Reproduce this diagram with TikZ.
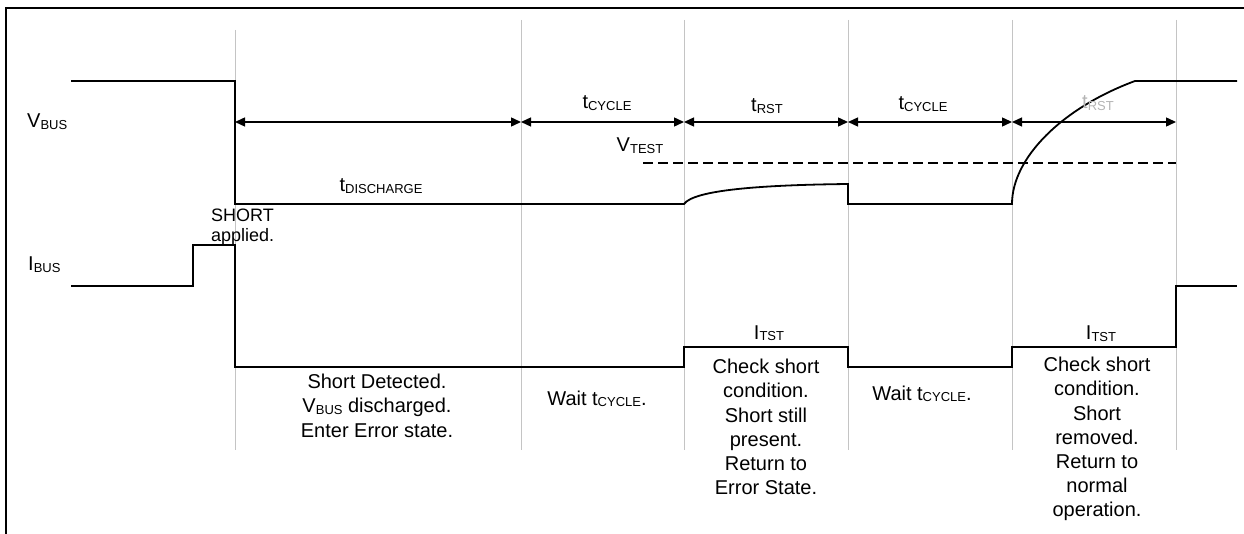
\documentclass[tikz,border=0pt]{standalone}
\usepackage{fontspec}
\setmainfont{Liberation Sans}
\usetikzlibrary{arrows.meta}
\newcommand{\sbs}[1]{\raisebox{-1.5pt}{\fontsize{13}{13}\selectfont #1}}
\definecolor{gridgray}{HTML}{C4C4C4}
\definecolor{lbgray}{HTML}{B4B4B4}
\tikzset{
  frame/.style={line width=2.6pt, black},
  gridline/.style={line width=1pt, gridgray},
  signal/.style={line width=1.8pt, black, line join=miter},
  span/.style={line width=1.4pt, black, {Triangle[length=10pt,width=9pt]}-{Triangle[length=10pt,width=9pt]}},
  vtest/.style={line width=1.4pt, black, dash pattern=on 10pt off 5pt},
  lbl/.style={inner sep=0pt, font=\fontsize{20}{24}\selectfont, anchor=base},
  small/.style={inner sep=0pt, font=\fontsize{18}{20}\selectfont, align=left, anchor=north west},
  desc/.style={inner sep=0pt, font=\fontsize{20}{24.2}\selectfont, align=center, anchor=north}
}
\begin{document}
\begin{tikzpicture}[x=1pt,y=-1pt]
\useasboundingbox (0,0) rectangle (1244,534);
% time marks
\coordinate (t0) at (235,122);
\coordinate (t1) at (521,122);
\coordinate (t2) at (684,122);
\coordinate (t3) at (848,122);
\coordinate (t4) at (1012,122);
\coordinate (t5) at (1176,122);
% frame
\draw[frame] (6,534) -- (6,8) -- (1244,8);
% grid lines
\draw[gridline] (235,30) -- (235,450);
\foreach \x in {521,684,848,1012,1176} \draw[gridline] (\x,20) -- (\x,450);
% labels
\node[lbl, anchor=base west] (vbusl) at (27,128) {V\sbs{BUS}};
\node[lbl, anchor=base west] (ibusl) at (28,271) {I\sbs{BUS}};
% VBUS signal
\draw[signal] (71,81) -- (235,81) -- (235,204) -- (684,204)
  .. controls (694,190) and (760,185) .. (848,184) -- (848,204) -- (1012,204)
  .. controls (1012,158) and (1062,108) .. (1135,81) -- (1237,81);
% IBUS signal
\draw[signal] (71,286) -- (193,286) -- (193,245) -- (235,245) -- (235,367)
  -- (684,367) -- (684,347) -- (848,347) -- (848,367) -- (1012,367)
  -- (1012,347) -- (1176,347) -- (1176,286) -- (1237,286);
% VTEST dashed
\coordinate (vt0) at (643,163);
\coordinate (vt1) at (1176,163);
\draw[vtest] (vt0) -- (vt1);
% spans
\draw[span] (t0) -- (t1);
\draw[span] (t1) -- (t2);
\draw[span] (t2) -- (t3);
\draw[span] (t3) -- (t4);
\draw[span] (t4) -- (t5);
% span labels
\node[lbl] (cyc1) at (607,109) {t\sbs{CYCLE}};
\node[lbl] (rst1) at (767,112) {t\sbs{RST}};
\node[lbl] (cyc2) at (923,110) {t\sbs{CYCLE}};
\node[lbl, text=lbgray] (rst2) at (1098,109) {t\sbs{RST}};
\node[lbl] (vtestl) at (640,152) {V\sbs{TEST}};
\node[lbl] (disch) at (381,192) {t\sbs{DISCHARGE}};
\node[lbl] (itst1) at (769,339) {I\sbs{TST}};
\node[lbl] (itst2) at (1101,340) {I\sbs{TST}};
% short applied
\node[small] (short) at (211,209) {SHORT\\applied.};
% descriptions
\node[desc] (d1) at (377,374) {Short Detected.\\V\sbs{BUS} discharged.\\Enter Error state.};
\node[lbl] (d2) at (597,405) {Wait t\sbs{CYCLE}.};
\node[desc] (d3) at (766,359) {Check short\\condition.\\Short still\\present.\\Return to\\Error State.};
\node[lbl] (d4) at (922,400) {Wait t\sbs{CYCLE}.};
\node[desc] (d5) at (1097,357) {Check short\\condition.\\Short\\removed.\\Return to\\normal\\operation.};
\end{tikzpicture}
\end{document}
